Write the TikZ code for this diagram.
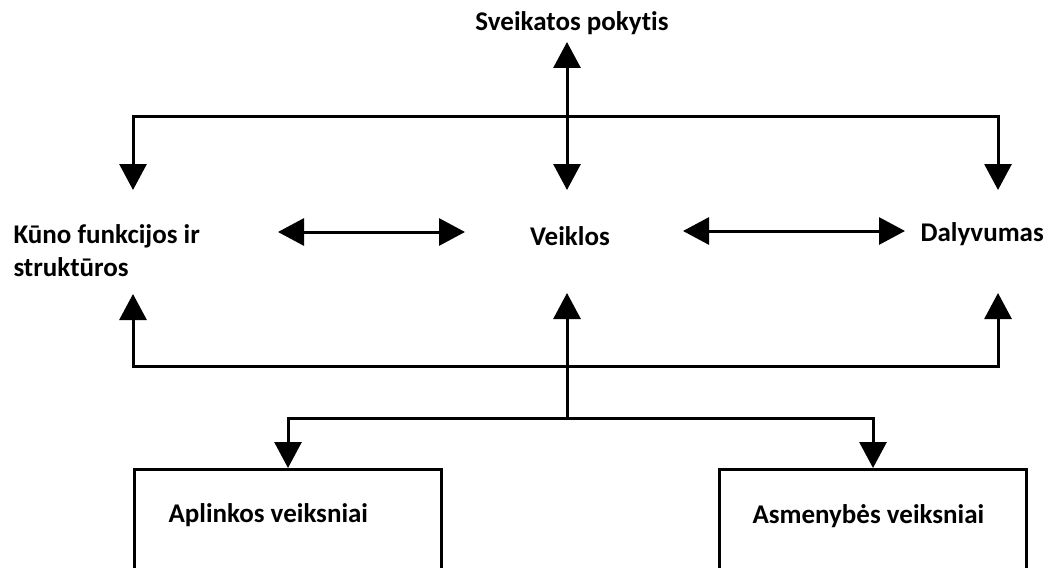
\documentclass[tikz,border=0pt]{standalone}
\usepackage{fontspec}
\setmainfont{Carlito}[Ligatures={NoCommon}]
\usetikzlibrary{arrows.meta}
\begin{document}
\begin{tikzpicture}[x=1pt,y=-1pt, line width=3pt, line join=miter,
  tip/.style={-{Triangle[length=26pt,width=27pt]}},
  dtip/.style={{Triangle[length=26pt,width=27pt]}-{Triangle[length=26pt,width=27pt]}},
  lbl/.style={font=\fontsize{27}{33}\selectfont\bfseries, inner sep=0pt},
  factor/.style={draw, line width=3pt, rectangle, minimum width=307pt, minimum height=140pt, anchor=north west, inner sep=0pt}]
\clip (0,0) rectangle (1043,567);
% labels
\node[lbl] (health) at (572,23) {Sveikatos pokytis};
\node[lbl, anchor=west, align=left] (body) at (12,251) {Kūno funkcijos ir\\struktūros};
\node[lbl] (act) at (570,236) {Veiklos};
\node[lbl, anchor=west] (part) at (919,234) {Dalyvumas};
% boxes
\node[factor] (env) at (133,468) {};
\node[factor] (pers) at (718,468) {};
\node[lbl, anchor=west] (envt) at (167,515) {Aplinkos veiksniai};
\node[lbl, anchor=west] (perst) at (751,516) {Asmenybės veiksniai};
% coordinates
\coordinate (tm) at (567,117);
\coordinate (healthtip) at (567,42);
\coordinate (downL) at (133,190);
\coordinate (downM) at (567,190);
\coordinate (downR) at (998,190);
\coordinate (upL) at (133,294);
\coordinate (upM) at (567,293);
\coordinate (upR) at (998,293);
\coordinate (bm) at (567,366);
\coordinate (bj) at (567,418);
\coordinate (lrA) at (278,232);
\coordinate (lrB) at (465,232);
\coordinate (rrA) at (683,231);
\coordinate (rrB) at (905,231);
% top bus
\draw[tip] (tm) -- (healthtip);
\draw[tip] (tm) -| (downL);
\draw[tip] (tm) -| (downR);
\draw[tip] (tm) -- (downM);
% horizontal double arrows
\draw[dtip] (lrA) -- (lrB);
\draw[dtip] (rrA) -- (rrB);
% bottom bus
\draw[tip] (bm) -| (upL);
\draw[tip] (bm) -| (upR);
\draw[tip] (bm) -- (upM);
\draw (bm) -- (bj);
\draw[tip] (bj) -| (env.north);
\draw[tip] (bj) -| (pers.north);
\end{tikzpicture}
\end{document}
